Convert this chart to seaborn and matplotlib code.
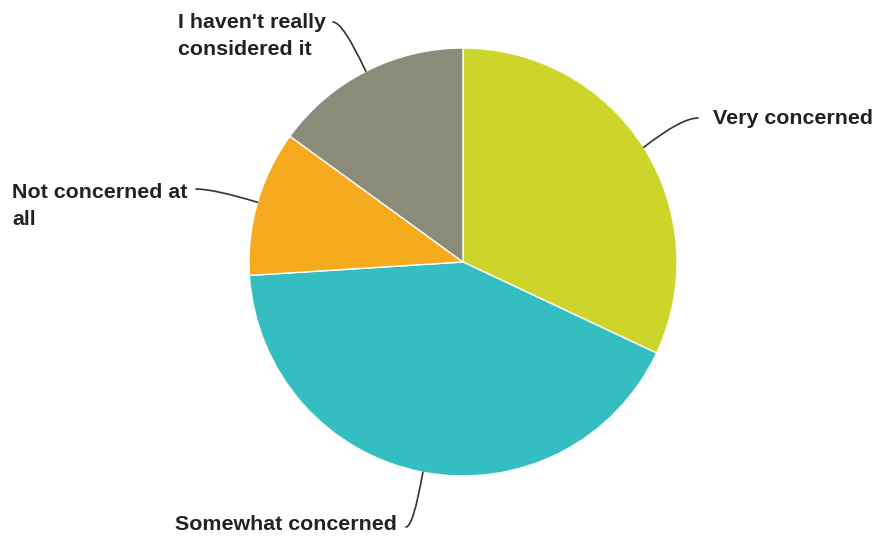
import numpy as np
import matplotlib
matplotlib.use("Agg")
import matplotlib.pyplot as plt
import seaborn as sns

labels = ["Very concerned", "Somewhat concerned", "Not concerned at\nall", "I haven't really\nconsidered it"]
values = [32, 42, 11, 15]
colors = ["#CDD52B", "#35BEC1", "#F6AA1E", "#8B8B7A"]

sns.set_style("white")
plt.rcParams['font.family'] = ['Liberation Sans', 'DejaVu Sans']

W, H = 874, 537
cx, cy, R = 463, 262, 214
fig = plt.figure(figsize=(W / 100, H / 100), dpi=100)
ax = fig.add_axes([0, 0, 1, 1])

wedges, _ = ax.pie(values, colors=colors, startangle=90, counterclock=False,
                   radius=1, center=(0, 0), frame=True,
                   wedgeprops=dict(edgecolor="white", linewidth=1))
ax.set_xlim(-cx / R, (W - cx) / R)
ax.set_ylim(-(H - cy) / R, cy / R)
ax.set_aspect("equal")
ax.axis("off")

def px(x, y):
    return ((x - cx) / R, (cy - y) / R)

# label text position (pixels), leader end (pixels), leader angle at the wedge
layout = [
    ((713, 119), (698, 118), 38),
    ((175, 525), (406, 527), 80),
    ((12, 206), (196, 189), 163),
    ((178, 36), (333, 22), 115),
]

for w, lab, (tpos, lend, angB) in zip(wedges, labels, layout):
    ang = np.deg2rad((w.theta1 + w.theta2) / 2)
    start = (np.cos(ang), np.sin(ang))
    ax.annotate("", xy=start, xytext=px(*lend),
                arrowprops=dict(arrowstyle="-", color="#333333", lw=1.2,
                                connectionstyle=f"angle3,angleA=0,angleB={angB}",
                                shrinkA=0, shrinkB=0))
    ax.text(*px(*tpos), lab, ha="left", va="center", fontsize=15.4,
            fontweight="bold", color="#222222", linespacing=1.5)

fig.savefig("out.png", dpi=100)
